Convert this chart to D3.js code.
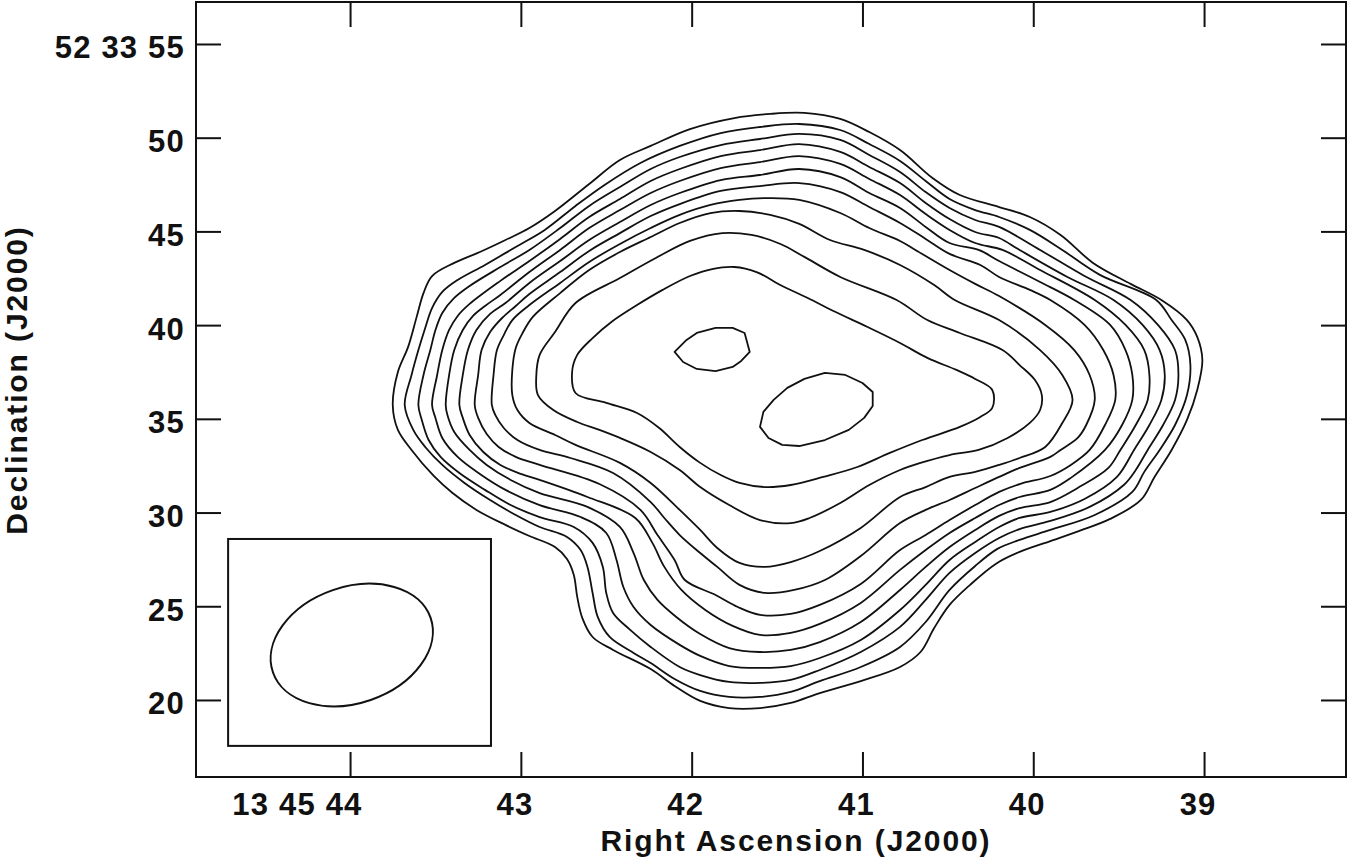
<!DOCTYPE html>
<html>
<head>
<meta charset="utf-8">
<script src="https://cdn.jsdelivr.net/npm/d3@7/dist/d3.min.js"></script>
<style>
  body { margin: 0; background: #fff; }
  .lbl { font-family: "Liberation Sans", Arial, Helvetica, sans-serif; font-weight: bold; font-size: 31px; letter-spacing: 1.2px; fill: #111; }
  .ttl { font-family: "Liberation Sans", Arial, Helvetica, sans-serif; font-weight: bold; font-size: 30px; letter-spacing: 1.9px; fill: #111; }
</style>
</head>
<body>
<svg id="chart"></svg>
<script>
// axis ticks (RA in seconds of 13h45m, Dec in arcsec of +52d33m)
const raTicks = [44, 43, 42, 41, 40, 39];
const raLabels = ["13 45 44", "43", "42", "41", "40", "39"];
const decTicks = [55, 50, 45, 40, 35, 30, 25, 20];
const decLabels = ["52 33 55", "50", "45", "40", "35", "30", "25", "20"];

// contours, outermost first: [RA sec, Dec arcsec]
const contour1 = [[43.75,35.74],[43.72,37.50],[43.66,38.84],[43.61,40.44],[43.57,41.71],[43.52,42.62],[43.39,43.32],[43.24,43.90],[43.09,44.54],[42.95,45.18],[42.80,46.09],[42.60,47.53],[42.42,48.81],[42.24,49.56],[42.01,50.46],[41.75,51.05],[41.54,51.27],[41.34,51.32],[41.13,51.00],[40.96,50.30],[40.78,49.34],[40.59,47.85],[40.43,46.94],[40.20,46.30],[40.02,45.77],[39.84,44.81],[39.65,43.32],[39.43,42.20],[39.25,41.34],[39.10,40.27],[39.04,39.37],[39.01,38.14],[39.04,36.54],[39.10,34.94],[39.19,33.34],[39.29,31.90],[39.37,30.67],[39.55,29.66],[39.73,29.02],[39.90,28.48],[40.08,27.90],[40.22,27.26],[40.37,26.14],[40.49,25.07],[40.58,23.84],[40.66,22.56],[40.78,21.76],[41.01,21.01],[41.25,20.37],[41.42,19.84],[41.60,19.57],[41.78,19.57],[41.95,19.95],[42.10,20.75],[42.24,21.65],[42.46,22.67],[42.58,23.36],[42.64,24.37],[42.67,25.50],[42.69,26.67],[42.73,27.52],[42.80,28.16],[42.95,28.75],[43.09,29.34],[43.26,30.14],[43.40,31.04],[43.51,31.95],[43.64,33.34],[43.72,34.41]];
const contour2 = [[43.68,35.74],[43.64,37.34],[43.60,38.67],[43.56,39.85],[43.52,40.91],[43.46,41.77],[43.37,42.41],[43.21,43.21],[43.03,44.17],[42.86,45.08],[42.68,46.36],[42.51,47.48],[42.30,48.65],[42.07,49.56],[41.83,50.25],[41.60,50.57],[41.37,50.73],[41.13,50.41],[40.96,49.66],[40.78,48.76],[40.63,47.69],[40.49,46.73],[40.34,46.14],[40.20,45.77],[40.02,45.08],[39.83,44.01],[39.61,42.68],[39.28,41.34],[39.19,40.27],[39.11,39.21],[39.08,37.87],[39.10,36.27],[39.17,34.67],[39.26,33.34],[39.35,32.17],[39.42,31.10],[39.64,29.87],[39.90,29.07],[40.08,28.54],[40.21,28.06],[40.34,27.15],[40.49,25.87],[40.63,24.16],[40.78,22.83],[41.01,21.76],[41.25,21.01],[41.42,20.43],[41.60,20.16],[41.78,20.16],[41.95,20.48],[42.10,21.12],[42.24,21.97],[42.34,22.51],[42.48,23.36],[42.55,24.43],[42.58,25.71],[42.61,27.10],[42.65,28.00],[42.73,28.70],[42.89,29.23],[43.03,29.87],[43.18,30.67],[43.33,31.58],[43.46,32.54],[43.56,33.50],[43.63,34.41]];
const contour3 = [[43.60,35.74],[43.57,37.34],[43.53,38.67],[43.50,39.74],[43.46,40.65],[43.39,41.45],[43.30,42.09],[43.12,43.10],[42.95,44.01],[42.77,45.18],[42.60,46.36],[42.42,47.37],[42.24,48.33],[42.07,48.97],[41.83,49.61],[41.60,49.93],[41.37,50.20],[41.13,49.88],[40.96,49.08],[40.78,48.17],[40.63,47.10],[40.49,46.25],[40.34,45.61],[40.20,45.24],[39.96,44.01],[39.70,42.62],[39.43,41.34],[39.27,40.01],[39.17,38.67],[39.15,37.34],[39.17,36.01],[39.24,34.67],[39.33,33.34],[39.40,32.27],[39.47,31.47],[39.67,30.30],[39.90,29.55],[40.08,29.12],[40.20,28.64],[40.34,27.84],[40.49,26.78],[40.63,25.34],[40.78,23.90],[41.01,22.56],[41.25,21.60],[41.42,21.07],[41.60,20.91],[41.78,20.96],[41.95,21.33],[42.07,21.76],[42.24,22.83],[42.36,23.74],[42.46,24.64],[42.50,25.71],[42.52,27.10],[42.58,28.38],[42.69,29.23],[42.89,29.76],[43.06,30.40],[43.21,31.21],[43.36,32.11],[43.47,32.97],[43.54,33.87],[43.58,34.94]];
const contour4 = [[43.52,35.74],[43.49,37.34],[43.46,38.67],[43.42,39.74],[43.37,40.49],[43.30,41.13],[43.12,42.36],[42.95,43.42],[42.77,44.60],[42.60,45.77],[42.42,46.73],[42.24,47.69],[42.07,48.33],[41.83,49.02],[41.60,49.34],[41.37,49.66],[41.13,49.24],[40.96,48.44],[40.78,47.58],[40.63,46.52],[40.49,45.66],[40.34,44.97],[40.20,44.65],[40.08,44.01],[39.80,42.57],[39.53,41.34],[39.36,40.01],[39.26,38.67],[39.23,37.34],[39.25,36.01],[39.32,34.67],[39.41,33.34],[39.51,31.90],[39.70,30.72],[39.90,30.03],[40.08,29.71],[40.20,29.23],[40.34,28.43],[40.49,27.47],[40.63,26.14],[40.78,24.80],[41.01,23.20],[41.25,22.24],[41.42,21.81],[41.60,21.71],[41.78,21.81],[41.95,22.35],[42.07,22.94],[42.24,24.00],[42.34,24.96],[42.40,26.03],[42.44,27.47],[42.50,28.91],[42.65,29.76],[42.89,30.40],[43.09,31.21],[43.24,32.06],[43.37,32.97],[43.46,33.98],[43.50,35.05]];
const contour5 = [[43.44,35.74],[43.42,37.34],[43.39,38.67],[43.34,39.74],[43.28,40.49],[43.21,41.02],[43.12,41.61],[42.95,42.83],[42.77,44.01],[42.60,45.18],[42.42,46.14],[42.24,47.05],[42.07,47.69],[41.83,48.38],[41.60,48.70],[41.37,49.02],[41.13,48.60],[40.96,47.80],[40.78,46.94],[40.63,45.93],[40.49,45.08],[40.34,44.38],[40.18,44.01],[39.96,42.94],[39.64,41.34],[39.46,40.01],[39.35,38.67],[39.32,37.34],[39.33,36.01],[39.40,34.67],[39.49,33.34],[39.56,32.38],[39.74,31.31],[39.90,30.56],[40.08,30.24],[40.20,29.82],[40.34,29.07],[40.49,28.16],[40.63,27.10],[40.78,25.87],[41.01,24.16],[41.25,23.09],[41.42,22.67],[41.60,22.56],[41.78,22.77],[41.95,23.52],[42.09,24.43],[42.20,25.34],[42.28,26.40],[42.34,27.84],[42.42,29.23],[42.61,30.30],[42.89,31.04],[43.06,31.74],[43.20,32.54],[43.30,33.34],[43.39,34.30],[43.43,35.21]];
const contour6 = [[43.36,35.74],[43.34,37.34],[43.31,38.67],[43.26,39.74],[43.18,40.60],[43.09,41.18],[42.95,42.25],[42.77,43.42],[42.60,44.54],[42.42,45.50],[42.24,46.41],[42.07,47.05],[41.83,47.74],[41.60,48.01],[41.37,48.33],[41.13,47.90],[40.96,47.05],[40.78,46.25],[40.63,45.24],[40.49,44.38],[40.32,44.01],[40.20,43.42],[39.96,42.30],[39.76,41.34],[39.55,40.01],[39.46,38.67],[39.42,37.34],[39.42,36.01],[39.48,34.67],[39.58,33.34],[39.78,31.85],[39.90,31.21],[40.08,30.83],[40.20,30.40],[40.34,29.71],[40.49,28.91],[40.63,28.00],[40.78,26.94],[41.01,25.18],[41.25,24.06],[41.42,23.58],[41.60,23.47],[41.76,23.95],[41.92,24.80],[42.06,25.87],[42.16,27.10],[42.23,28.38],[42.33,29.71],[42.61,30.83],[42.89,31.74],[43.00,32.06],[43.12,32.54],[43.22,33.23],[43.30,34.14],[43.34,35.05]];
const contour7 = [[43.27,35.74],[43.25,37.34],[43.23,38.67],[43.18,39.63],[43.11,40.38],[43.03,41.02],[42.95,41.66],[42.77,42.83],[42.60,43.96],[42.42,44.91],[42.24,45.82],[42.07,46.46],[41.83,47.16],[41.60,47.42],[41.37,47.58],[41.13,47.10],[40.96,46.30],[40.78,45.45],[40.63,44.60],[40.49,43.80],[40.31,43.21],[40.20,42.57],[40.02,41.88],[39.90,41.34],[39.70,40.01],[39.59,38.67],[39.53,37.34],[39.52,36.01],[39.58,34.67],[39.67,33.34],[39.78,32.54],[39.90,31.95],[40.08,31.52],[40.20,31.10],[40.34,30.40],[40.49,29.60],[40.63,28.80],[40.78,28.00],[41.01,26.19],[41.25,25.07],[41.42,24.59],[41.60,24.54],[41.73,24.96],[41.86,25.60],[42.04,26.40],[42.10,27.47],[42.20,28.80],[42.30,30.14],[42.54,31.52],[42.89,32.54],[43.03,32.97],[43.13,33.50],[43.20,34.19],[43.25,35.05]];
const contour8 = [[43.17,35.74],[43.16,37.34],[43.14,38.67],[43.10,39.47],[43.05,40.27],[42.95,41.07],[42.77,42.25],[42.60,43.37],[42.42,44.33],[42.24,45.18],[42.07,45.88],[41.89,46.41],[41.72,46.68],[41.54,46.78],[41.37,46.68],[41.13,45.98],[40.96,45.18],[40.78,44.49],[40.69,44.01],[40.49,42.94],[40.34,42.20],[40.20,41.55],[39.93,40.01],[39.76,38.67],[39.67,37.34],[39.64,36.01],[39.69,34.67],[39.74,33.98],[39.84,33.34],[39.90,32.97],[40.08,32.38],[40.20,31.90],[40.34,31.31],[40.49,30.67],[40.63,30.14],[40.78,29.44],[41.01,27.68],[41.22,26.40],[41.40,25.87],[41.57,25.71],[41.72,26.14],[41.85,27.10],[41.95,27.84],[42.07,28.80],[42.16,29.71],[42.24,30.56],[42.46,32.11],[42.71,32.91],[42.89,33.34],[43.02,33.87],[43.10,34.51],[43.15,35.21]];
const contour9 = [[43.05,36.27],[43.05,37.61],[43.03,38.78],[42.99,39.58],[42.93,40.44],[42.77,41.71],[42.60,42.94],[42.42,43.90],[42.24,44.70],[42.07,45.45],[41.89,45.98],[41.72,46.09],[41.54,45.88],[41.37,45.40],[41.19,44.54],[40.99,44.01],[40.78,43.21],[40.58,42.14],[40.46,41.34],[40.20,40.27],[39.96,38.67],[39.83,37.34],[39.77,36.01],[39.83,34.78],[39.93,33.50],[40.08,32.91],[40.20,32.54],[40.34,32.17],[40.49,31.90],[40.63,31.36],[40.78,30.83],[41.01,29.18],[41.25,27.95],[41.42,27.36],[41.57,27.10],[41.72,27.31],[41.85,28.11],[41.95,29.07],[42.07,30.14],[42.24,31.58],[42.42,32.65],[42.68,33.61],[42.80,34.14],[42.95,34.78],[43.02,35.47]];
const contour10 = [[42.90,36.27],[42.91,37.23],[42.89,38.41],[42.80,39.63],[42.68,41.18],[42.42,42.51],[42.21,43.58],[42.01,44.49],[41.82,44.91],[41.65,44.81],[41.48,44.33],[41.34,43.64],[41.13,42.57],[40.80,41.34],[40.62,40.27],[40.43,39.58],[40.18,38.67],[40.08,37.87],[39.99,37.07],[39.95,36.27],[39.96,35.47],[40.02,34.78],[40.15,33.98],[40.32,33.34],[40.49,33.07],[40.66,32.65],[40.78,32.27],[40.96,31.47],[41.13,30.51],[41.31,29.71],[41.42,29.44],[41.60,29.60],[41.78,30.40],[41.95,31.36],[42.07,32.27],[42.24,33.23],[42.42,33.98],[42.54,34.41],[42.67,34.83],[42.81,35.47]];
const contour11 = [[42.70,37.50],[42.67,38.41],[42.58,39.31],[42.47,40.17],[42.32,41.07],[42.17,41.88],[42.01,42.62],[41.88,42.99],[41.75,43.10],[41.62,42.83],[41.47,42.09],[41.32,41.45],[41.17,40.75],[40.97,39.90],[40.78,39.05],[40.62,38.25],[40.45,37.61],[40.34,37.13],[40.24,36.54],[40.24,35.58],[40.31,35.10],[40.43,34.57],[40.65,33.87],[40.84,33.18],[41.03,32.43],[41.23,31.90],[41.42,31.47],[41.57,31.36],[41.72,31.58],[41.83,32.00],[41.95,32.65],[42.07,33.50],[42.19,34.51],[42.32,35.31],[42.50,35.85],[42.68,36.38]];
// two peaks inside the innermost contour
const peakEast = [[42.10,38.57],[42.03,39.21],[41.97,39.58],[41.86,39.85],[41.76,39.85],[41.69,39.58],[41.66,38.57],[41.71,38.09],[41.76,37.77],[41.86,37.55],[41.97,37.66],[42.05,38.03]];
const peakWest = [[41.60,34.57],[41.58,35.37],[41.52,36.01],[41.44,36.65],[41.34,37.13],[41.22,37.45],[41.10,37.34],[41.00,36.91],[40.94,36.43],[40.94,35.69],[40.99,35.05],[41.08,34.41],[41.22,33.87],[41.37,33.55],[41.47,33.61],[41.55,33.98]];

// restoring beam (arcsec, PA in deg east of north) and its box
const beam = { ra: 43.99, dec: 22.93, bmaj: 8.9, bmin: 6.2, pa: -71 };
const beamBox = { raEast: 44.714, raWest: 43.175, decLow: 17.55, decHigh: 28.59 };

const contours = [contour1, contour2, contour3, contour4, contour5, contour6,
                  contour7, contour8, contour9, contour10, contour11];
const peaks = [peakEast, peakWest];

const svg = d3.select("#chart").attr("width", 1350).attr("height", 860);

const x = d3.scaleLinear().domain([44.902, 38.169]).range([196, 1346]);
const y = d3.scaleLinear().domain([15.89, 57.24]).range([777, 2]);

function styleAxis(g) {
  g.select(".domain").remove();
  g.selectAll(".tick line").attr("stroke", "#111").attr("stroke-width", 2);
}

// bottom axis with labels
svg.append("g")
   .attr("transform", `translate(0,${y.range()[0]})`)
   .call(d3.axisBottom(x).tickValues(raTicks).tickSize(-25).tickFormat((d, i) => raLabels[i]))
   .call(styleAxis)
   .call(g => g.selectAll(".tick text")
      .attr("class", "lbl").attr("y", 38).attr("dy", null)
      .attr("x", 12).attr("text-anchor", "end"));

// top axis, ticks only
svg.append("g")
   .attr("transform", `translate(0,${y.range()[1]})`)
   .call(d3.axisTop(x).tickValues(raTicks).tickSize(-25))
   .call(styleAxis)
   .call(g => g.selectAll(".tick text").remove());

// left axis with labels
svg.append("g")
   .attr("transform", `translate(${x.range()[0]},0)`)
   .call(d3.axisLeft(y).tickValues(decTicks).tickSize(-25).tickFormat((d, i) => decLabels[i]))
   .call(styleAxis)
   .call(g => g.selectAll(".tick text")
      .attr("class", "lbl").attr("x", -11).attr("dy", null)
      .attr("y", 14).attr("text-anchor", "end"));

// right axis, ticks only
svg.append("g")
   .attr("transform", `translate(${x.range()[1]},0)`)
   .call(d3.axisRight(y).tickValues(decTicks).tickSize(-25))
   .call(styleAxis)
   .call(g => g.selectAll(".tick text").remove());

// frame
svg.append("rect")
   .attr("x", x.range()[0]).attr("y", y.range()[1])
   .attr("width", x.range()[1] - x.range()[0])
   .attr("height", y.range()[0] - y.range()[1])
   .attr("fill", "none").attr("stroke", "#111").attr("stroke-width", 2);

// contours
const smooth = d3.line().x(d => x(d[0])).y(d => y(d[1])).curve(d3.curveCatmullRomClosed.alpha(0.5));
const poly = d3.line().x(d => x(d[0])).y(d => y(d[1])).curve(d3.curveLinearClosed);

svg.append("g").selectAll("path")
   .data(contours).join("path")
   .attr("d", smooth)
   .attr("fill", "none").attr("stroke", "#111").attr("stroke-width", 1.8)
   .attr("stroke-linejoin", "round");

svg.append("g").selectAll("path")
   .data(peaks).join("path")
   .attr("d", poly)
   .attr("fill", "none").attr("stroke", "#111").attr("stroke-width", 1.8)
   .attr("stroke-linejoin", "round");

// beam box + ellipse
svg.append("rect")
   .attr("x", x(beamBox.raEast)).attr("y", y(beamBox.decHigh))
   .attr("width", x(beamBox.raWest) - x(beamBox.raEast))
   .attr("height", y(beamBox.decLow) - y(beamBox.decHigh))
   .attr("fill", "none").attr("stroke", "#111").attr("stroke-width", 2);

const pxPerArcsec = y(0) - y(1);
const paRad = beam.pa * Math.PI / 180;
const rot = Math.atan2(-Math.cos(paRad), -Math.sin(paRad)) * 180 / Math.PI;
svg.append("ellipse")
   .attr("transform", `translate(${x(beam.ra)},${y(beam.dec)}) rotate(${rot})`)
   .attr("rx", beam.bmaj / 2 * pxPerArcsec)
   .attr("ry", beam.bmin / 2 * pxPerArcsec)
   .attr("fill", "none").attr("stroke", "#111").attr("stroke-width", 2);

// axis titles
svg.append("text").attr("class", "ttl")
   .attr("x", 796).attr("y", 851).attr("text-anchor", "middle")
   .text("Right Ascension (J2000)");

svg.append("text").attr("class", "ttl")
   .attr("transform", "translate(27,380) rotate(-90)")
   .attr("text-anchor", "middle")
   .text("Declination (J2000)");
</script>
</body>
</html>
